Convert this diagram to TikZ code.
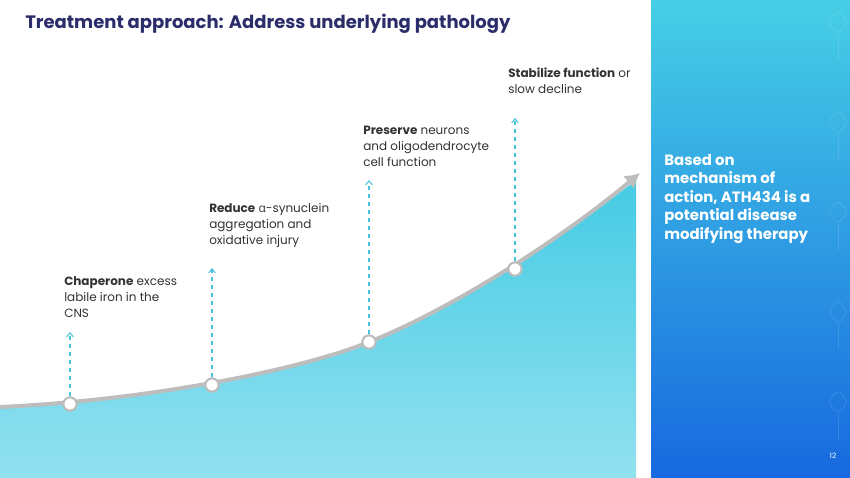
\documentclass[tikz,border=0pt]{standalone}
\usepackage{fontspec}
\setmainfont{Poppins}
\newfontfamily\grk{Open Sans}
\usetikzlibrary{arrows.meta}
\definecolor{titlec}{HTML}{2B2D6B}
\definecolor{dashc}{HTML}{4CC3DD}
\definecolor{curvec}{HTML}{BDBDBD}
\definecolor{fillt}{HTML}{45CBE4}
\definecolor{fillb}{HTML}{92E1EF}
\definecolor{panelt}{HTML}{46CFE6}
\definecolor{panelb}{HTML}{1769DF}
\tikzset{
 lbl/.style={anchor=north west,align=left,font=\fontsize{9}{12}\selectfont,text=black!80,inner sep=0pt},
 dot/.style={circle,draw=curvec,line width=1.6pt,fill=white,minimum size=10pt,inner sep=0pt},
 up/.style={dashc,dashed,line width=0.8pt,-{Straight Barb[length=3pt,width=5pt]}}
}
\begin{document}
\begin{tikzpicture}[x=0.75pt,y=-0.75pt]
\useasboundingbox (0,0) rectangle (850,478);
\fill[white] (0,0) rectangle (850,478);
\shade[top color=panelt,bottom color=panelb] (651,0) rectangle (850,478);
\foreach \yy in {10,110,200,300,390}{
 \draw[white,opacity=0.12,line width=0.6pt,rounded corners=3pt] (838,\yy) -- (828,\yy+12) -- (838,\yy+24) -- (848,\yy+12) -- cycle;
 \draw[white,opacity=0.12,line width=0.6pt,rounded corners=3pt] (838,\yy+24) -- (838,\yy+50);
}
\node[anchor=west,font=\fontsize{13.5}{16}\selectfont\bfseries,text=titlec,inner sep=0pt] (title) at (25,24) {Treatment approach: Address underlying pathology};
\shade[top color=fillt,bottom color=fillb] (0,407) .. controls (150,400) and (300,370) .. (369,342) .. controls (450,310) and (560,240) .. (636,180) -- (636,478) -- (0,478) -- cycle;
\draw[curvec,line width=3pt,-{Latex[length=11pt,width=13pt]}] (0,407) .. controls (150,400) and (300,370) .. (369,342) .. controls (450,310) and (560,240) .. (640,173);
\node[dot] (d1) at (70,404) {};
\node[dot] (d2) at (212,385) {};
\node[dot] (d3) at (369,342) {};
\node[dot] (d4) at (515,269) {};
\coordinate (t1) at (70,332);
\coordinate (t2) at (212,268);
\coordinate (t3) at (369,180);
\coordinate (t4) at (515,118);
\draw[up] (d1) -- (t1);
\draw[up] (d2) -- (t2);
\draw[up] (d3) -- (t3);
\draw[up] (d4) -- (t4);
\node[lbl] (l1) at (64,276) {\textbf{Chaperone} excess\\labile iron in the\\CNS};
\node[lbl] (l2) at (209,203) {\textbf{Reduce} {\grk α}-synuclein\\aggregation and\\oxidative injury};
\node[lbl] (l3) at (363,126) {\textbf{Preserve} neurons\\and oligodendrocyte\\cell function};
\node[lbl] (l4) at (508,68) {\textbf{Stabilize function} or\\slow decline};
\node[anchor=north west,align=left,text=white,font=\fontsize{11.2}{13.9}\selectfont\bfseries,inner sep=0pt] (side) at (664,154) {Based on\\mechanism of\\action, ATH434 is a\\potential disease\\modifying therapy};
\node[text=white,font=\fontsize{5.5}{6}\selectfont,inner sep=0pt] (pg) at (833,456) {12};
\end{tikzpicture}
\end{document}
